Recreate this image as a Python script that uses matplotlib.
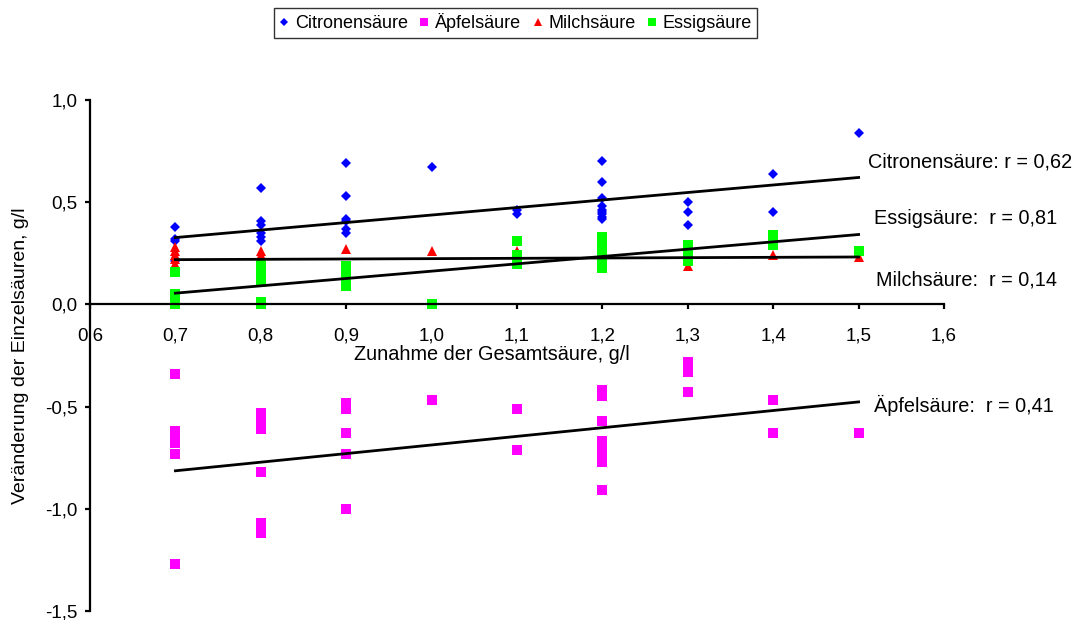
import matplotlib
matplotlib.use('Agg')
import matplotlib.pyplot as plt
from matplotlib.ticker import FuncFormatter, MultipleLocator

plt.rcParams['font.family'] = ['Liberation Sans', 'DejaVu Sans']

# Citronensaeure (blue diamonds)
citro_x = [0.7] * 4 + [0.8] * 6 + [0.9] * 6 + [1.0] + [1.1] * 2 + [1.2] * 9 + [1.3] * 3 + [1.4] * 2 + [1.5]
citro_y = [0.38, 0.32, 0.31, 0.21,
           0.57, 0.41, 0.39, 0.35, 0.33, 0.31,
           0.69, 0.53, 0.42, 0.41, 0.37, 0.35,
           0.67,
           0.46, 0.44,
           0.70, 0.60, 0.52, 0.48, 0.46, 0.45, 0.44, 0.43, 0.42,
           0.50, 0.45, 0.39,
           0.64, 0.45,
           0.84]

# Aepfelsaeure (magenta squares)
apfel_x = [0.7] * 7 + [0.8] * 6 + [0.9] * 5 + [1.0] + [1.1] * 2 + [1.2] * 8 + [1.3] * 4 + [1.4] * 2 + [1.5]
apfel_y = [-0.34, -0.62, -0.64, -0.66, -0.68, -0.73, -1.27,
           -0.53, -0.58, -0.61, -0.82, -1.07, -1.12,
           -0.48, -0.51, -0.63, -0.73, -1.00,
           -0.47,
           -0.51, -0.71,
           -0.42, -0.45, -0.57, -0.67, -0.70, -0.73, -0.77, -0.91,
           -0.28, -0.31, -0.33, -0.43,
           -0.47, -0.63,
           -0.63]

# Milchsaeure (red triangles)
milch_x = [0.7] * 5 + [0.8] * 2 + [0.9] * 2 + [1.0] + [1.1] * 2 + [1.2] + [1.3] + [1.4] + [1.5]
milch_y = [0.28, 0.26, 0.24, 0.22, 0.20,
           0.26, 0.24,
           0.27, 0.16,
           0.26,
           0.26, 0.25,
           0.22,
           0.19,
           0.24,
           0.23]

# Essigsaeure (green squares)
essig_x = [0.7] * 5 + [0.8] * 7 + [0.9] * 5 + [1.0] + [1.1] * 3 + [1.2] * 8 + [1.3] * 4 + [1.4] * 2 + [1.5]
essig_y = [0.16, 0.05, 0.03, 0.01, 0.00,
           0.20, 0.18, 0.16, 0.13, 0.11, 0.01, 0.00,
           0.19, 0.17, 0.14, 0.12, 0.09,
           0.00,
           0.31, 0.24, 0.20,
           0.33, 0.31, 0.29, 0.27, 0.25, 0.23, 0.21, 0.18,
           0.29, 0.26, 0.23, 0.21,
           0.34, 0.29,
           0.26]

# regression lines, values at start and end
fit_x = [0.7, 1.5]
citro_fit = [0.327, 0.621]
apfel_fit = [-0.814, -0.477]
milch_fit = [0.219, 0.232]
essig_fit = [0.055, 0.342]

labels = ['Citronensäure: r = 0,62', 'Essigsäure:  r = 0,81',
          'Milchsäure:  r = 0,14', 'Äpfelsäure:  r = 0,41']
label_pos = [(1.511, 0.672), (1.518, 0.392), (1.52, 0.093), (1.518, -0.525)]

fig = plt.figure(figsize=(10.78, 6.2), dpi=100)
ax = fig.add_axes([0.0835, 0.0145, 0.7922, 0.8242])

ax.plot(citro_x, citro_y, 'D', color='#0000ff', markersize=5, markeredgewidth=0, label='Citronensäure')
ax.plot(apfel_x, apfel_y, 's', color='#ff00ff', markersize=6.6, markeredgewidth=0, label='Äpfelsäure')
ax.plot(milch_x, milch_y, '^', color='#ff0000', markersize=7, markeredgewidth=0, label='Milchsäure')
ax.plot(essig_x, essig_y, 's', color='#00ff00', markersize=6.6, markeredgewidth=0, label='Essigsäure')

for f in [citro_fit, apfel_fit, milch_fit, essig_fit]:
    ax.plot(fit_x, f, color='black', linewidth=2)

for txt, (tx, ty) in zip(labels, label_pos):
    ax.text(tx, ty, txt, fontsize=14.3, va='baseline', ha='left', clip_on=False)

ax.set_xlim(0.6, 1.6)
ax.set_ylim(-1.5, 1.0)
ax.spines['bottom'].set_position(('data', 0))
ax.spines['top'].set_visible(False)
ax.spines['right'].set_visible(False)
ax.spines['left'].set_linewidth(1.6)
ax.spines['bottom'].set_linewidth(1.6)
ax.xaxis.set_major_locator(MultipleLocator(0.1))
ax.yaxis.set_major_locator(MultipleLocator(0.5))
comma = FuncFormatter(lambda v, p: ('%.1f' % v).replace('.', ','))
ax.xaxis.set_major_formatter(comma)
ax.yaxis.set_major_formatter(comma)
ax.tick_params(direction='out', length=3.4, width=1.6, labelsize=13.5)
ax.tick_params(axis='x', pad=13)
ax.tick_params(axis='y', pad=5.8)

ax.set_xlabel('Zunahme der Gesamtsäure, g/l', fontsize=14.3)
ax.xaxis.set_label_coords(0.4707, 0.5205)
ax.set_ylabel('Veränderung der Einzelsäuren, g/l', fontsize=14)
ax.yaxis.set_label_coords(-0.071, 0.5)

leg = fig.legend(loc='upper center', bbox_to_anchor=(0.4782, 0.987), ncol=4, fontsize=13,
                 frameon=True, fancybox=False, edgecolor='black', handlelength=0.6,
                 handletextpad=0.3, columnspacing=0.6, borderpad=0.3, borderaxespad=0,
                 markerscale=0.9)
leg.get_frame().set_linewidth(1.0)

fig.savefig('out.png', dpi=100)
